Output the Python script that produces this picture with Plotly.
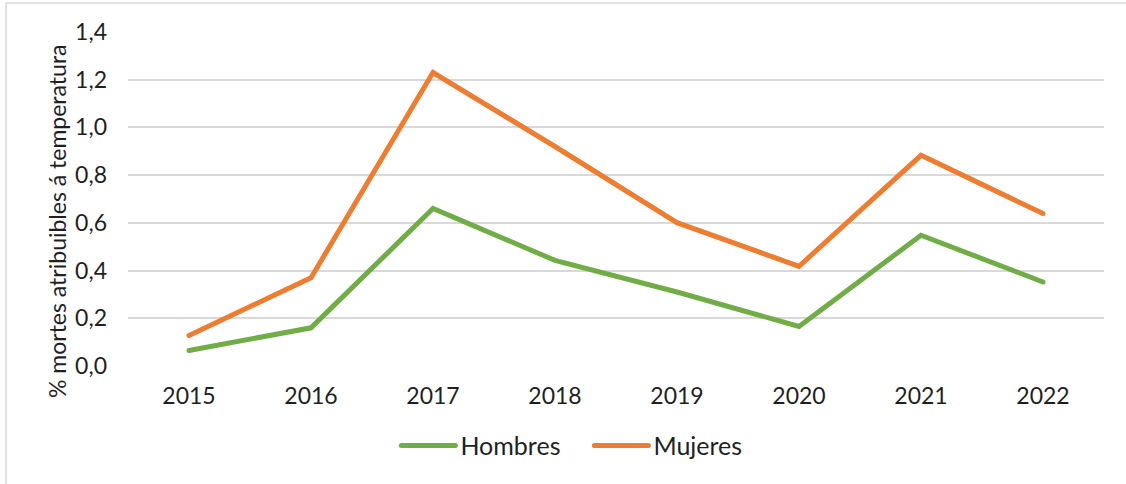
import plotly.graph_objects as go

# Share of deaths attributable to temperature, by sex
years = ["2015", "2016", "2017", "2018", "2019", "2020", "2021", "2022"]
hombres = [0.065, 0.16, 0.66, 0.443, 0.31, 0.166, 0.548, 0.352]
mujeres = [0.128, 0.37, 1.23, 0.92, 0.601, 0.418, 0.883, 0.639]

y_ticks = [0.0, 0.2, 0.4, 0.6, 0.8, 1.0, 1.2, 1.4]

FONT = "Lato, 'Open Sans', sans-serif"
GREEN = "#70AD47"
ORANGE = "#ED7D31"
GRID = "#D9D9D9"
TEXT = "#1f1f1f"

fig = go.Figure()
fig.add_trace(go.Scatter(x=years, y=hombres, name="Hombres", mode="lines",
                         line=dict(color=GREEN, width=5)))
fig.add_trace(go.Scatter(x=years, y=mujeres, name="Mujeres", mode="lines",
                         line=dict(color=ORANGE, width=5)))

fig.update_layout(
    width=1126, height=484,
    margin=dict(l=128, r=22, t=32, b=118),
    paper_bgcolor="white", plot_bgcolor="white",
    separators=",.",
    font=dict(family=FONT, size=23, color=TEXT),
    showlegend=True,
    legend=dict(orientation="h", x=0.275, xanchor="left", y=-0.17, yanchor="top",
                font=dict(size=25, color=TEXT), itemwidth=54,
                entrywidth=124, entrywidthmode="pixels",
                traceorder="normal"),
    xaxis=dict(type="category", range=[-0.5, 7.5], showgrid=False, zeroline=False,
               showline=False, ticks="", tickfont=dict(size=23), ticklabelstandoff=14),
    yaxis=dict(range=[0, 1.4], tickvals=y_ticks, tickformat=".1f",
               showgrid=True, gridcolor=GRID, gridwidth=1.5, zeroline=False,
               showline=False, ticks="", tickfont=dict(size=23), ticklabelstandoff=20),
    annotations=[dict(text="% mortes atribuibles á temperatura", textangle=-90,
                      xref="paper", yref="paper", x=(57 - 128) / 976,
                      y=(366 - 221) / 334, xanchor="center", yanchor="middle",
                      showarrow=False, font=dict(size=23, color=TEXT))],
    shapes=[dict(type="rect", xref="paper", yref="paper",
                 x0=(6 - 128) / 976, x1=1.2, y0=-0.6, y1=(366 - 3) / 334,
                 line=dict(color=GRID, width=1.5), fillcolor="rgba(0,0,0,0)",
                 layer="below")],
)

fig.write_html(
    "out.html",
    post_script="document.querySelectorAll('.scatterlayer path.js-line, .legendlines path')"
                ".forEach(function(p){p.style.strokeLinecap='round';});",
)
